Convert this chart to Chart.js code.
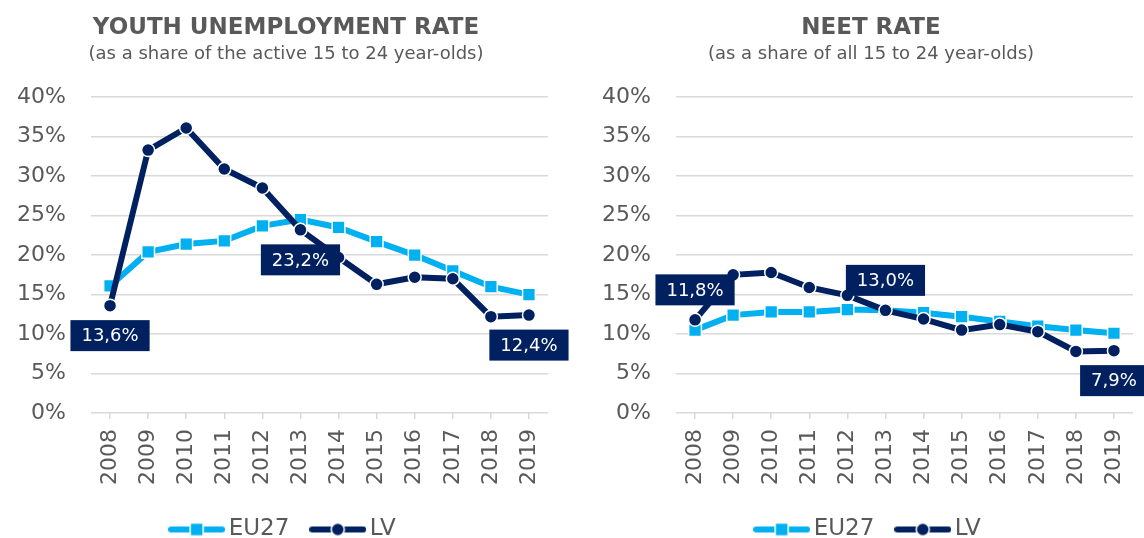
<!DOCTYPE html>
<html>
<head>
<meta charset="utf-8">
<script src="https://cdn.jsdelivr.net/npm/chart.js@4.4.0/dist/chart.umd.min.js"></script>
<style>
html, body { margin: 0; padding: 0; background: #fff; overflow: hidden; width: 1144px; height: 538px; }
.panel { position: absolute; top: 0; width: 572px; height: 538px; }
#leftPanel { left: 0; }
#rightPanel { left: 585px; }
</style>
</head>
<body>
<div class="panel" id="leftPanel"><canvas id="unempChart"></canvas></div>
<div class="panel" id="rightPanel"><canvas id="neetChart"></canvas></div>
<script>
// ─── DATA ─────────────────────────────────────────────────────
const years = ['2008', '2009', '2010', '2011', '2012', '2013', '2014', '2015', '2016', '2017', '2018', '2019'];
const seriesNames = ['EU27', 'LV'];

const unempEU = [16.1, 20.4, 21.4, 21.8, 23.7, 24.5, 23.5, 21.7, 20.0, 18.0, 16.0, 15.0];
const unempLV = [13.6, 33.3, 36.1, 30.9, 28.5, 23.2, 19.7, 16.3, 17.2, 17.0, 12.2, 12.4];

const neetEU = [10.5, 12.4, 12.8, 12.8, 13.1, 13.0, 12.7, 12.2, 11.6, 11.0, 10.5, 10.1];
const neetLV = [11.8, 17.5, 17.8, 15.9, 14.9, 13.0, 11.9, 10.5, 11.2, 10.3, 7.8, 7.9];

const yTicks = [0, 5, 10, 15, 20, 25, 30, 35, 40];

// which LV points carry a value box, and on which side
const unempLabelIdx = [0, 5, 11];
const unempLabelSide = ['below', 'below', 'below'];
const neetLabelIdx = [0, 5, 11];
const neetLabelSide = ['above', 'above', 'below'];

// ─── STYLE ────────────────────────────────────────────────────
const FONT = '"DejaVu Sans", Verdana, sans-serif';
const GREY = '#595959';
const GRID = '#d9d9d9';
const EU_COLOR = '#00b0f0';
const LV_COLOR = '#002060';

const fmt = v => v.toFixed(1).replace('.', ',') + '%';

// legend swatch: line with a marker in the middle
function swatch(color, shape) {
    const c = document.createElement('canvas');
    c.width = 57; c.height = 18;
    const g = c.getContext('2d');
    g.strokeStyle = color; g.lineWidth = 6; g.lineCap = 'round';
    g.beginPath(); g.moveTo(3, 9); g.lineTo(54, 9); g.stroke();
    g.fillStyle = color; g.strokeStyle = '#fff'; g.lineWidth = 1.5;
    g.beginPath();
    if (shape === 'rect') g.rect(22, 2.5, 13, 13);
    else g.arc(28.5, 9, 6.5, 0, Math.PI * 2);
    g.fill(); g.stroke();
    return c;
}
const euSwatch = swatch(EU_COLOR, 'rect');
const lvSwatch = swatch(LV_COLOR, 'circle');

// ─── VALUE BOXES ─────────────────────────────────────────────
const boxLabels = {
    id: 'boxLabels',
    afterDatasetsDraw(chart, args, opts) {
        const meta = chart.getDatasetMeta(opts.dataset);
        const values = chart.data.datasets[opts.dataset].data;
        const ctx = chart.ctx;
        ctx.save();
        ctx.font = '18px ' + FONT;
        ctx.textAlign = 'center';
        ctx.textBaseline = 'middle';
        opts.points.forEach((idx, k) => {
            const pt = meta.data[idx];
            const txt = fmt(values[idx]);
            const w = ctx.measureText(txt).width + 22, h = 31;
            const cy = pt.y + (opts.side[k] === 'above' ? -30 : 30);
            ctx.fillStyle = LV_COLOR;
            ctx.fillRect(pt.x - w / 2, cy - h / 2, w, h);
            ctx.fillStyle = '#fff';
            ctx.fillText(txt, pt.x, cy + 1);
        });
        ctx.restore();
    }
};

// ─── CHART FACTORY ───────────────────────────────────────────
function makeChart(id, title, subtitle, eu, lv, labelIdx, labelSide) {
    return new Chart(document.getElementById(id), {
        type: 'line',
        data: {
            labels: years,
            datasets: [
                {
                    label: seriesNames[0], data: eu, order: 1,
                    borderColor: EU_COLOR, backgroundColor: EU_COLOR, borderWidth: 6,
                    pointStyle: 'rect', pointRadius: 9, pointBorderColor: '#fff', pointBorderWidth: 1.5,
                    pointBackgroundColor: EU_COLOR, tension: 0
                },
                {
                    label: seriesNames[1], data: lv, order: 0,
                    borderColor: LV_COLOR, backgroundColor: LV_COLOR, borderWidth: 6,
                    pointStyle: 'circle', pointRadius: 6.5, pointBorderColor: '#fff', pointBorderWidth: 1.5,
                    pointBackgroundColor: LV_COLOR, tension: 0
                }
            ]
        },
        options: {
            responsive: true,
            maintainAspectRatio: false,
            animation: false,
            devicePixelRatio: 1,
            layout: { padding: { left: 0, right: 0, top: 0, bottom: -13 } },
            plugins: {
                tooltip: { enabled: false },
                title: {
                    display: true, text: title, color: GREY,
                    font: { family: FONT, size: 23, weight: 'bold' },
                    padding: { top: 14, bottom: 2 }
                },
                subtitle: {
                    display: true, text: subtitle, color: GREY,
                    font: { family: FONT, size: 18 },
                    padding: { top: 0, bottom: 32 }
                },
                legend: {
                    position: 'bottom',
                    labels: {
                        usePointStyle: true, pointStyleWidth: 41, padding: 28,
                        color: GREY, font: { family: FONT, size: 23 },
                        generateLabels: () => [
                            { text: seriesNames[0], pointStyle: euSwatch, fillStyle: EU_COLOR, strokeStyle: EU_COLOR, lineWidth: 0, hidden: false, datasetIndex: 0, fontColor: GREY },
                            { text: seriesNames[1], pointStyle: lvSwatch, fillStyle: LV_COLOR, strokeStyle: LV_COLOR, lineWidth: 0, hidden: false, datasetIndex: 1, fontColor: GREY }
                        ]
                    }
                },
                boxLabels: { dataset: 1, points: labelIdx, side: labelSide }
            },
            scales: {
                x: {
                    offset: true,
                    grid: { drawOnChartArea: false, drawTicks: true, tickLength: 6, color: GRID, lineWidth: 1.5 },
                    border: { display: false },
                    ticks: { color: GREY, font: { family: FONT, size: 22 }, minRotation: 90, maxRotation: 90, padding: 10 },
                    afterFit: s => { s.height = 77; }
                },
                y: {
                    min: 0, max: 40,
                    afterBuildTicks: s => { s.ticks = yTicks.map(v => ({ value: v })); },
                    grid: { color: GRID, lineWidth: 1.5, drawTicks: false },
                    border: { display: false },
                    ticks: { color: GREY, font: { family: FONT, size: 22 }, padding: 25, callback: v => v + '%' },
                    afterFit: s => { s.width = 91; }
                },
                // empty spacer on the right so titles centre like the original
                spacer: {
                    type: 'linear', position: 'right', display: true,
                    grid: { display: false }, border: { display: false },
                    ticks: { display: false },
                    afterFit: s => { s.width = 24; }
                }
            }
        },
        plugins: [boxLabels]
    });
}

// ─── INIT ─────────────────────────────────────────────────────
const unempChart = makeChart('unempChart', 'YOUTH UNEMPLOYMENT RATE', '(as a share of the active 15 to 24 year-olds)',
    unempEU, unempLV, unempLabelIdx, unempLabelSide);
const neetChart = makeChart('neetChart', 'NEET RATE', '(as a share of all 15 to 24 year-olds)',
    neetEU, neetLV, neetLabelIdx, neetLabelSide);
</script>
</body>
</html>
